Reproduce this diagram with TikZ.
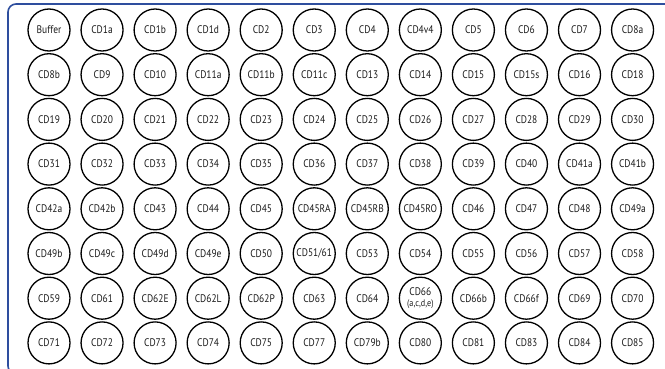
\documentclass[tikz,border=0pt]{standalone}
\usepackage{fontspec}
\setmainfont{PT Sans}[FakeStretch=0.86]
\definecolor{frameblue}{HTML}{2E4E9E}
\definecolor{txt}{HTML}{1A1A1A}
\tikzset{
  cd/.style={circle, draw=black, line width=1.3pt, minimum size=42pt, inner sep=0pt,
    font=\fontsize{11}{11.5}\selectfont, text=txt, align=center},
  frame/.style={draw=frameblue, line width=1.6pt, rounded corners=8pt}
}
\begin{document}
\begin{tikzpicture}[x=1pt,y=-1pt]
\useasboundingbox (0,0) rectangle (665,369);
\begin{scope}
\clip (0,0) rectangle (665,369);
\draw[frame] (8,4) rectangle (690,374);
\end{scope}
\def\xs{53.05}
\def\ys{44.7}
\foreach \lab [count=\i from 0] in {Buffer,CD1a,CD1b,CD1d,CD2,CD3,CD4,CD4v4,CD5,CD6,CD7,CD8a}
  \node[cd] (r1c\i) at ({49+\i*\xs},30) {\lab};
\foreach \lab [count=\i from 0] in {CD8b,CD9,CD10,CD11a,CD11b,CD11c,CD13,CD14,CD15,CD15s,CD16,CD18}
  \node[cd] (r2c\i) at ({49+\i*\xs},{30+\ys}) {\lab};
\foreach \lab [count=\i from 0] in {CD19,CD20,CD21,CD22,CD23,CD24,CD25,CD26,CD27,CD28,CD29,CD30}
  \node[cd] (r3c\i) at ({49+\i*\xs},{30+2*\ys}) {\lab};
\foreach \lab [count=\i from 0] in {CD31,CD32,CD33,CD34,CD35,CD36,CD37,CD38,CD39,CD40,CD41a,CD41b}
  \node[cd] (r4c\i) at ({49+\i*\xs},{30+3*\ys}) {\lab};
\foreach \lab [count=\i from 0] in {CD42a,CD42b,CD43,CD44,CD45,CD45RA,CD45RB,CD45RO,CD46,CD47,CD48,CD49a}
  \node[cd] (r5c\i) at ({49+\i*\xs},{30+4*\ys}) {\lab};
\foreach \lab [count=\i from 0] in {CD49b,CD49c,CD49d,CD49e,CD50,CD51/61,CD53,CD54,CD55,CD56,CD57,CD58}
  \node[cd] (r6c\i) at ({49+\i*\xs},{30+5*\ys}) {\lab};
\foreach \lab [count=\i from 0] in {CD59,CD61,CD62E,CD62L,CD62P,CD63,CD64,{CD66\\[-1pt]{\fontsize{9.5}{10}\selectfont(a,c,d,e)}},CD66b,CD66f,CD69,CD70}
  \node[cd] (r7c\i) at ({49+\i*\xs},{30+6*\ys}) {\lab};
\foreach \lab [count=\i from 0] in {CD71,CD72,CD73,CD74,CD75,CD77,CD79b,CD80,CD81,CD83,CD84,CD85}
  \node[cd] (r8c\i) at ({49+\i*\xs},{30+7*\ys}) {\lab};
\end{tikzpicture}
\end{document}
